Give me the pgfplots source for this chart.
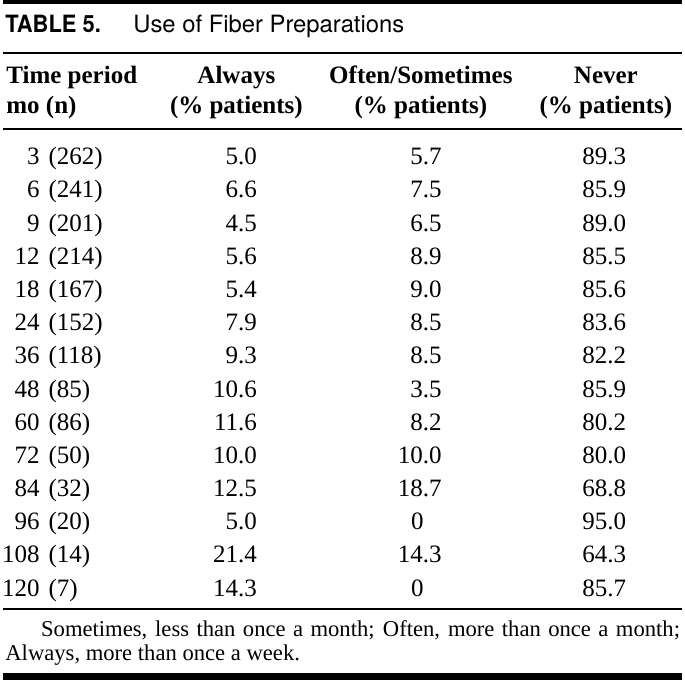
\documentclass[border=0pt]{standalone}
\usepackage{pgfplots}
\usepackage{pgfplotstable}
\pgfplotsset{compat=1.18}
\usepackage{fontspec}
\setmainfont{Liberation Serif}
\newfontfamily\titlefont{TeX Gyre Heros}
\newcommand\bodyf{\fontsize{25.2}{30}\selectfont}
\newcommand\footf{\fontsize{22.8}{24}\selectfont}

\pgfplotstableread[col sep=comma]{
y,mo,n,always,often,never
166.0,3,(262),5.0,5.7,89.3
199.5,6,(241),6.6,7.5,85.9
232.9,9,(201),4.5,6.5,89.0
266.4,12,(214),5.6,8.9,85.5
299.8,18,(167),5.4,9.0,85.6
333.3,24,(152),7.9,8.5,83.6
366.8,36,(118),9.3,8.5,82.2
400.2,48,(85),10.6,3.5,85.9
433.7,60,(86),11.6,8.2,80.2
467.1,72,(50),10.0,10.0,80.0
500.6,84,(32),12.5,18.7,68.8
567.5,108,(14),21.4,14.3,64.3
}\tbl
\pgfplotstableread[col sep=comma]{
y,mo,n,always,often,never
534.1,96,(20),5.0,0,95.0
601.0,120,(7),14.3,0,85.7
}\tblz

\begin{document}
\begin{tikzpicture}
\begin{axis}[
  width=684pt, height=685pt, scale only axis,
  xmin=0, xmax=684, ymin=0, ymax=685, y dir=reverse,
  axis lines=none, ticks=none, clip=false,
  point meta=explicit symbolic,
]
% rules
\addplot[black, line width=4.5pt, line cap=butt] coordinates {(0,2.25) (684,2.25)};
\addplot[black, line width=2pt] coordinates {(0,53) (684,53)};
\addplot[black, line width=2pt] coordinates {(0,130) (684,130)};
\addplot[black, line width=2pt] coordinates {(0,613.5) (684,613.5)};
\addplot[black, line width=6.5pt, line cap=butt] coordinates {(0,681.75) (684,681.75)};

% body cells
\addplot[draw=none, mark=none, nodes near coords, nodes near coords style={anchor=base east, font=\bodyf, inner sep=0pt}]
  table[x expr=37, y=y, meta=mo] {\tbl};
\addplot[draw=none, mark=none, nodes near coords, nodes near coords style={anchor=base east, font=\bodyf, inner sep=0pt}]
  table[x expr=37, y=y, meta=mo] {\tblz};
\addplot[draw=none, mark=none, nodes near coords, nodes near coords style={anchor=base west, font=\bodyf, inner sep=0pt}]
  table[x expr=45.5, y=y, meta=n] {\tbl};
\addplot[draw=none, mark=none, nodes near coords, nodes near coords style={anchor=base west, font=\bodyf, inner sep=0pt}]
  table[x expr=45.5, y=y, meta=n] {\tblz};
\addplot[draw=none, mark=none, nodes near coords, nodes near coords style={anchor=base east, font=\bodyf, inner sep=0pt}]
  table[x expr=256, y=y, meta=always] {\tbl};
\addplot[draw=none, mark=none, nodes near coords, nodes near coords style={anchor=base east, font=\bodyf, inner sep=0pt}]
  table[x expr=256, y=y, meta=always] {\tblz};
\addplot[draw=none, mark=none, nodes near coords, nodes near coords style={anchor=base east, font=\bodyf, inner sep=0pt}]
  table[x expr=442, y=y, meta=often] {\tbl};
\addplot[draw=none, mark=none, nodes near coords, nodes near coords style={anchor=base east, font=\bodyf, inner sep=0pt}]
  table[x expr=424, y=y, meta=often] {\tblz};
\addplot[draw=none, mark=none, nodes near coords, nodes near coords style={anchor=base east, font=\bodyf, inner sep=0pt}]
  table[x expr=628, y=y, meta=never] {\tbl};
\addplot[draw=none, mark=none, nodes near coords, nodes near coords style={anchor=base east, font=\bodyf, inner sep=0pt}]
  table[x expr=628, y=y, meta=never] {\tblz};

% title
\node[anchor=base west, inner sep=0pt, font=\titlefont\bfseries\fontsize{24}{28}\selectfont] at (axis cs:2,33) {\scalebox{0.92}[1]{TABLE 5.}};
\node[anchor=base west, inner sep=0pt, font=\titlefont\fontsize{24}{28}\selectfont] at (axis cs:131,33) {Use of Fiber Preparations};

% header
\node[anchor=base west, inner sep=0pt, font=\bodyf\bfseries] at (axis cs:3,84) {Time period};
\node[anchor=base west, inner sep=0pt, font=\bodyf\bfseries] at (axis cs:3,114) {mo (n)};
\node[anchor=base, inner sep=0pt, font=\bodyf\bfseries] at (axis cs:235,84) {Always};
\node[anchor=base, inner sep=0pt, font=\bodyf\bfseries] at (axis cs:235,114) {(\% patients)};
\node[anchor=base, inner sep=0pt, font=\bodyf\bfseries] at (axis cs:421,84) {Often/Sometimes};
\node[anchor=base, inner sep=0pt, font=\bodyf\bfseries] at (axis cs:421,114) {(\% patients)};
\node[anchor=base, inner sep=0pt, font=\bodyf\bfseries] at (axis cs:607.5,84) {Never};
\node[anchor=base, inner sep=0pt, font=\bodyf\bfseries] at (axis cs:607.5,114) {(\% patients)};

% footnote
\node[anchor=base west, inner sep=0pt, font=\footf] at (axis cs:38,642) {\makebox[644pt][s]{Sometimes, less than once a month; Often, more than once a month;}};
\node[anchor=base west, inner sep=0pt, font=\footf] at (axis cs:2,665.5) {Always, more than once a week.};
\end{axis}
\end{tikzpicture}
\end{document}
